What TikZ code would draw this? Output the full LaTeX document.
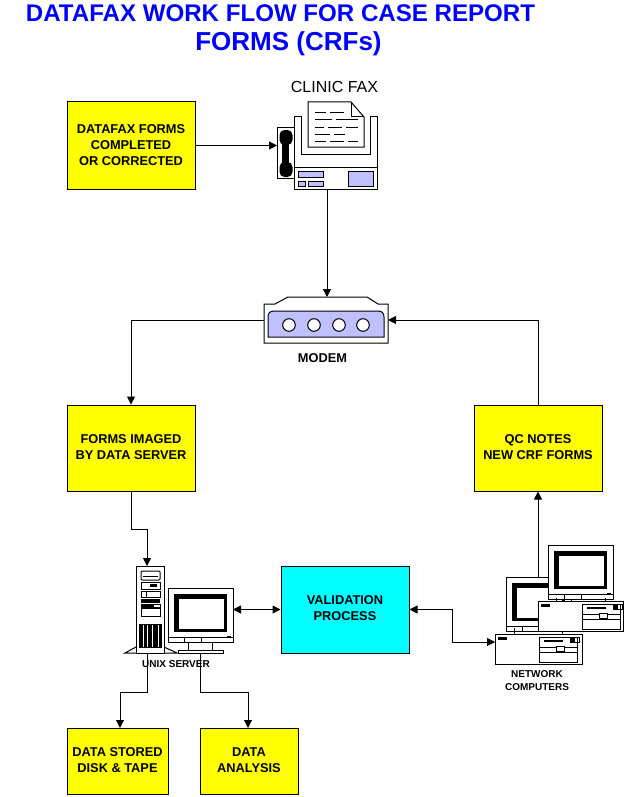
\documentclass[tikz,border=0pt]{standalone}
\usepackage{fontspec}
\setmainfont{Liberation Sans}
\usetikzlibrary{arrows.meta}
\definecolor{boxyellow}{RGB}{255,255,0}
\definecolor{boxcyan}{RGB}{0,255,255}
\definecolor{lav}{RGB}{192,192,255}
\definecolor{ttl}{RGB}{0,0,255}
\newcommand{\lift}{\rule[-2pt]{0pt}{2pt}}
\tikzset{
 flowbox/.style={draw=black,line width=1pt,fill=boxyellow,inner sep=0pt,align=center,font=\fontsize{12.8}{16}\selectfont\bfseries},
 anchorbox/.style={inner sep=0pt,outer sep=0pt},
 flow/.style={line width=1pt,-{Triangle[length=8pt,width=8pt]}},
 flowboth/.style={line width=1pt,{Triangle[length=8pt,width=8pt]}-{Triangle[length=8pt,width=8pt]}},
 ln/.style={line width=1pt},
 ttltext/.style={text=ttl,font=\fontsize{24.1}{27}\selectfont\bfseries},
 lbl/.style={font=\fontsize{10}{13}\selectfont\bfseries,align=center,inner sep=0pt},
}
% monitor: outer top-left at origin, w=65 h=54
\newcommand{\crtmon}[2]{%
\begin{scope}[shift={(#1,#2)}]
 \draw[ln,fill=white] (0,0) rectangle (65,54);
 \fill[black] (6,6) -- (59,6) -- (59,44) -- (6,44) -- cycle;
 \fill[white] (10.5,10.5) rectangle (56,41);
 \draw[ln] (0,49) -- (65,49);
 \draw[ln] (16,49) -- (16,54) (33,49)--(33,54);
 \fill (59,48) rectangle (63,50);
\end{scope}}
\newcommand{\pcbox}[3]{%
\begin{scope}[shift={(#1,#2)}]
 \draw[ln,fill=white] (0,0) rectangle (#3,30);
 \fill (3,3) rectangle (12,6);
 \draw[ln] (44,3) rectangle (82,28);
 \fill (49,6) rectangle (68,8);
 \draw[ln] (44,13) -- (82,13) (44,18) -- (82,18);
 \draw[ln,fill=white] (61,12) rectangle (69,17);
 \draw[ln] (75,3) rectangle (84,8);
 \fill (75,3) rectangle (79.5,8);
\end{scope}}
\begin{document}
\begin{tikzpicture}[x=1pt,y=-1pt]
\useasboundingbox[fill=white] (0,0) rectangle (634,797);
% titles
\node[ttltext,anchor=base] (t1) at (280.5,22) {DATAFAX WORK FLOW FOR CASE REPORT};
\node[ttltext,font=\fontsize{26}{28}\selectfont\bfseries,anchor=base] (t2) at (288.5,51) {FORMS (CRFs)};
% boxes
\node[flowbox,minimum width=128pt,minimum height=87pt] (b1) at (131,145.5) {DATAFAX FORMS\\COMPLETED\\OR CORRECTED};
\node[flowbox,minimum width=128pt,minimum height=86pt] (b2) at (131,448) {FORMS IMAGED\\BY DATA SERVER\lift};
\node[flowbox,minimum width=128pt,minimum height=86pt] (b3) at (538,448) {QC NOTES\\NEW CRF FORMS\lift};
\node[flowbox,fill=boxcyan,minimum width=128pt,minimum height=87pt] (val) at (345,609.5) {VALIDATION\\PROCESS\lift};
\node[flowbox,minimum width=101pt,minimum height=66pt] (b4) at (117.5,761) {DATA STORED\\DISK \& TAPE\lift};
\node[flowbox,minimum width=98pt,minimum height=66pt] (b5) at (249,761) {DATA\\ANALYSIS\lift};
% icon anchors
\node[anchorbox,minimum width=100pt,minimum height=72pt] (fax) at (327,153) {};
\node[anchorbox,minimum width=124pt,minimum height=46pt] (modem) at (326,320) {};
\node[anchorbox,minimum width=28pt,minimum height=87pt] (tower) at (150,609.5) {};
\node[anchorbox,minimum width=65pt,minimum height=65pt] (mon) at (200.5,620.5) {};
\node[anchorbox,minimum width=87pt,minimum height=30pt] (pcf) at (538.5,649) {};
\coordinate (fm) at (538,577);
% fax
\draw[ln,fill=white] (294,117) -- (301,117) -- (301,154) -- (370,154) -- (370,117) -- (377,117) -- (377,189) -- (294,189) -- cycle;
\draw[ln] (294,167) -- (377,167);
\draw[ln,fill=white] (308,102) -- (351,102) -- (364,117) -- (364,147) -- (308,147) -- cycle;
\draw[ln] (351,102) -- (351,117) -- (364,117);
\draw[ln] (315,113)--(326,113) (330,113)--(344,113) (315,120)--(332,120) (336,120)--(358,120)
 (315,127)--(324,127) (328,127)--(342,127) (346,127)--(358,127) (315,134)--(330,134) (334,134)--(345,134)
 (315,141)--(326,141) (330,141)--(344,141) (348,141)--(358,141);
\draw[ln,fill=lav] (298,171) rectangle (323,177) (298,181) rectangle (305,186) (308,181) rectangle (323,186) (348,171) rectangle (373,186);
\draw[ln,fill=white] (277,127) rectangle (294,178);
\fill[black,rounded corners=5pt] (279.5,130) rectangle (292.5,145);
\fill[black,rounded corners=5pt] (279.5,162) rectangle (292.5,177);
\fill[black] (282,140) rectangle (289,167);
\node[font=\fontsize{16}{18}\selectfont,anchor=base,inner sep=0pt] (faxl) at (334.5,93) {CLINIC FAX};
% modem
\draw[ln,fill=white] (264,304) -- (275,304) -- (288,297) -- (367,297) -- (378,304) -- (388,304) -- (388,343) -- (264,343) -- cycle;
\draw[ln,fill=lav] (268,337) -- (268,317) .. controls (268,313) and (270,311) .. (274,311) -- (378,311) .. controls (382,311) and (384,313) .. (384,317) -- (384,337) -- cycle;
\foreach \cx in {289,314,339,363} \draw[ln,fill=white] (\cx,325) circle (6.3);
\node[lbl,font=\fontsize{12.8}{14}\selectfont\bfseries,anchor=base] (ml) at (322.5,362) {MODEM};
% server tower
\draw[ln,fill=white] (136,653) -- (125,653) -- (136,647) (164,647) -- (177,653) -- (164,653);
\draw[ln,fill=white] (136,566) rectangle (164,653);
\draw[ln,rounded corners=1pt] (141,571) rectangle (160,580);
\draw[ln] (143,576) -- (158,576);
\draw[ln] (141,582) rectangle (160,589);
\fill (150,584) rectangle (157,587);
\draw[ln] (141,591) rectangle (160,597);
\draw[ln] (146,591) -- (146,597);
\fill (141,599) rectangle (160,603);
\draw[ln] (141,604) rectangle (160,607);
\fill (141,604) rectangle (154,607);
\draw[ln] (141,608) rectangle (160,616);
\fill (139,624) rectangle (162,648);
\foreach \vx in {143,147,152,158} \draw[white,line width=.9pt] (\vx,625) -- (\vx,647);
% server monitor
\crtmon{168}{588}
\draw[ln,fill=white] (188,642) rectangle (212,650);
\draw[ln,fill=white] (178,650) rectangle (223,653);
% network computers
\crtmon{506}{577}
\draw[ln] (514,628) -- (514,634) (562,628) -- (562,634);
\crtmon{548}{545}
\draw[ln] (556,598) -- (556,601) (605,598) -- (605,601);
\pcbox{538}{601}{85}
\pcbox{495}{634}{87}
\node[lbl,anchor=base] (nl1) at (537,677.5) {NETWORK};
\node[lbl,anchor=base] (nl2) at (537,690.5) {COMPUTERS};
% connectors
\draw[flow] (b1.east) -- (b1.east -| fax.west);
\draw[flow] (fax.south) -- (modem.north -| fax.south);
\draw[flow] (modem.west) -- (b2.north |- modem.west) -- (b2.north);
\draw[flow] (b3.north) -- (b3.north |- modem.east) -- (modem.east);
\draw[flow] (b2.south) -- (131,529) -- (147,529) -- (147,566);
\draw[flow] (fm) -- (b3.south);
\draw[flowboth] (mon.east |- val.west) -- (val.west);
\draw[flowboth] (val.east) -- (452,609.5) -- (452,642) -- (pcf.west |- 0,642);
\draw[flow] (147,653) -- (147,692) -- (120,692) -- (120,728);
\draw[flow] (200,653) -- (200,692) -- (248,692) -- (248,728);
\node[lbl,anchor=base] (ux) at (176,667.5) {UNIX SERVER};
\end{tikzpicture}
\end{document}
